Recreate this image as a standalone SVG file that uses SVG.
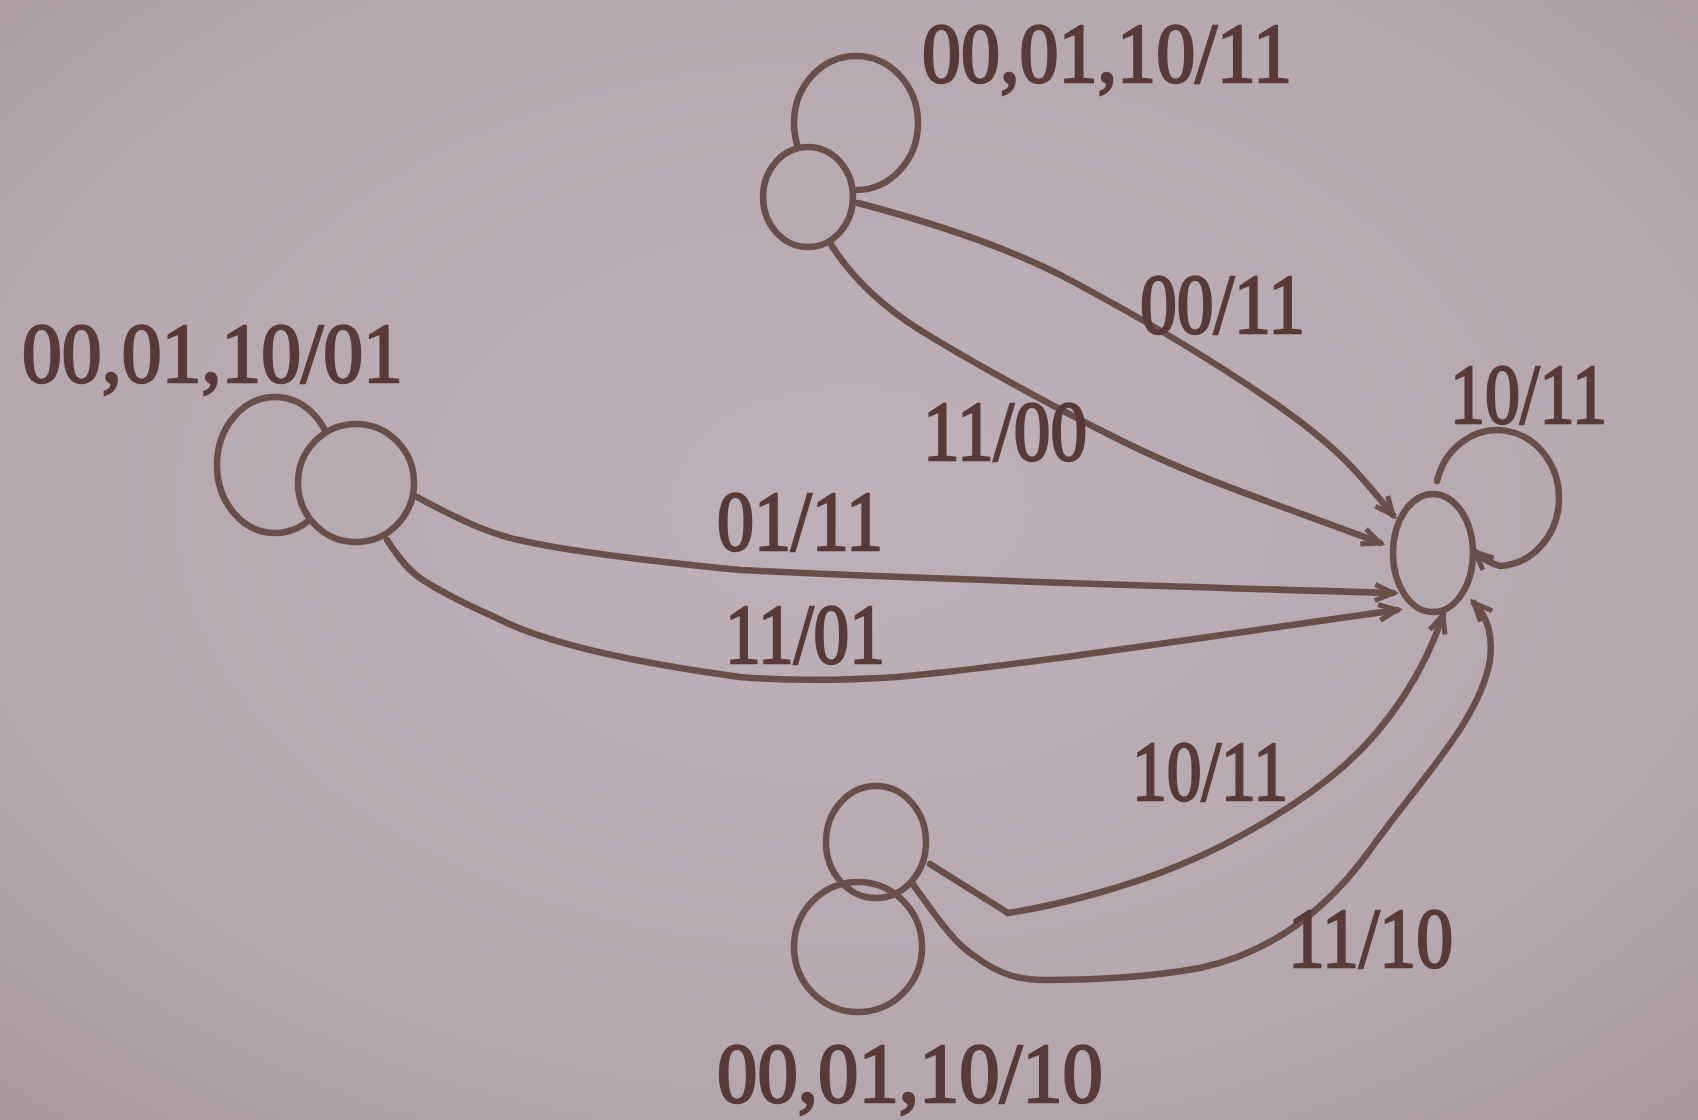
<svg xmlns="http://www.w3.org/2000/svg" width="1698" height="1120" viewBox="0 0 1698 1120">
<style>
.bg{fill:url(#bgg)}
.node{fill:#b7abb2;stroke:#6a4f48;stroke-width:6.5}
.ring{fill:none;stroke:#6a4f48;stroke-width:6.5}
.edge{fill:none;stroke:#6a4f48;stroke-width:6.5;stroke-linejoin:round;stroke-linecap:round}
.lbl{font-family:"Liberation Serif","Times New Roman",serif;font-size:84px;fill:#5a3a36;stroke:#5a3a36;stroke-width:2.5}
</style>
<defs>
<radialGradient id="bgg" cx="0.5" cy="0.45" r="0.75">
<stop offset="0" stop-color="#bdb0b8"/>
<stop offset="0.7" stop-color="#b5a7ae"/>
<stop offset="1" stop-color="#a7989f"/>
</radialGradient>
<marker id="arr" markerWidth="26" markerHeight="22" refX="21" refY="11" orient="auto" markerUnits="userSpaceOnUse">
<path d="M3,3 L21,11 L3,19" fill="none" stroke="#6a4f48" stroke-width="5" stroke-linejoin="miter"/>
</marker>
</defs>
<rect class="bg" x="0" y="0" width="1698" height="1120"/>

<g id="connectors">
<path id="e-00-11" class="edge" d="M858,203 C930,222 1010,248 1070,280 S1200,352 1270,400 S1360,475 1393,515" marker-end="url(#arr)"/>
<path id="e-11-00" class="edge" d="M830,243 C850,275 880,305 920,330 S1040,400 1120,440 S1280,505 1380,543" marker-end="url(#arr)"/>
<path id="e-01-11" class="edge" d="M417,497 C450,515 480,530 507,537 C540,546 600,556 740,570 C900,578 1150,586 1393,593" marker-end="url(#arr)"/>
<path id="e-11-01" class="edge" d="M387,540 C400,560 410,572 423,580 C450,598 480,610 507,623 C540,638 600,658 740,677 C800,682 850,680 897,677 C1000,668 1150,645 1397,610" marker-end="url(#arr)"/>
<path id="e-10-11b" class="edge" d="M930,864 L1008,913 C1060,905 1127,887 1180,865 S1300,805 1345,765 S1425,670 1443,615" marker-end="url(#arr)"/>
<path id="e-11-10" class="edge" d="M912,883 C935,915 955,945 976,957 C1000,975 1020,980 1045,980 C1100,980 1150,977 1200,968 C1260,955 1320,920 1370,850 C1420,780 1480,720 1490,660 C1493,635 1488,618 1474,603" marker-end="url(#arr)"/>
<path id="loop-right" class="edge" d="M1437,481 A62,68 0 1 1 1500,566 Q1486,562 1475,552" marker-end="url(#arr)"/>
<ellipse id="loop-top" class="ring" cx="856" cy="123" rx="62" ry="67"/>
<ellipse id="loop-left" class="ring" cx="275" cy="465" rx="58" ry="68"/>
<ellipse id="loop-bottom" class="ring" cx="858" cy="947" rx="64" ry="65"/>
</g>

<g id="node-top">
<ellipse class="node" cx="808" cy="197" rx="45" ry="50"/>
</g>
<g id="node-left">
<ellipse class="node" cx="356" cy="483" rx="58" ry="59"/>
</g>
<g id="node-right">
<ellipse class="node" cx="1433" cy="553" rx="40" ry="59"/>
</g>
<g id="node-bottom">
<ellipse class="ring" cx="876" cy="842" rx="50" ry="56"/>
</g>

<g id="labels">
<text class="lbl" x="922" y="82" textLength="370" lengthAdjust="spacingAndGlyphs">00,01,10/11</text>
<text class="lbl" x="22" y="382" textLength="381" lengthAdjust="spacingAndGlyphs">00,01,10/01</text>
<text class="lbl" x="717" y="1102" textLength="386" lengthAdjust="spacingAndGlyphs">00,01,10/10</text>
<text class="lbl" x="1450" y="423" textLength="157" lengthAdjust="spacingAndGlyphs">10/11</text>
<text class="lbl" x="1140" y="333" textLength="165" lengthAdjust="spacingAndGlyphs">00/11</text>
<text class="lbl" x="923" y="460" textLength="164" lengthAdjust="spacingAndGlyphs">11/00</text>
<text class="lbl" x="717" y="550" textLength="166" lengthAdjust="spacingAndGlyphs">01/11</text>
<text class="lbl" x="725" y="663" textLength="160" lengthAdjust="spacingAndGlyphs">11/01</text>
<text class="lbl" x="1132" y="800" textLength="156" lengthAdjust="spacingAndGlyphs">10/11</text>
<text class="lbl" x="1288" y="967" textLength="165" lengthAdjust="spacingAndGlyphs">11/10</text>
</g>
</svg>
